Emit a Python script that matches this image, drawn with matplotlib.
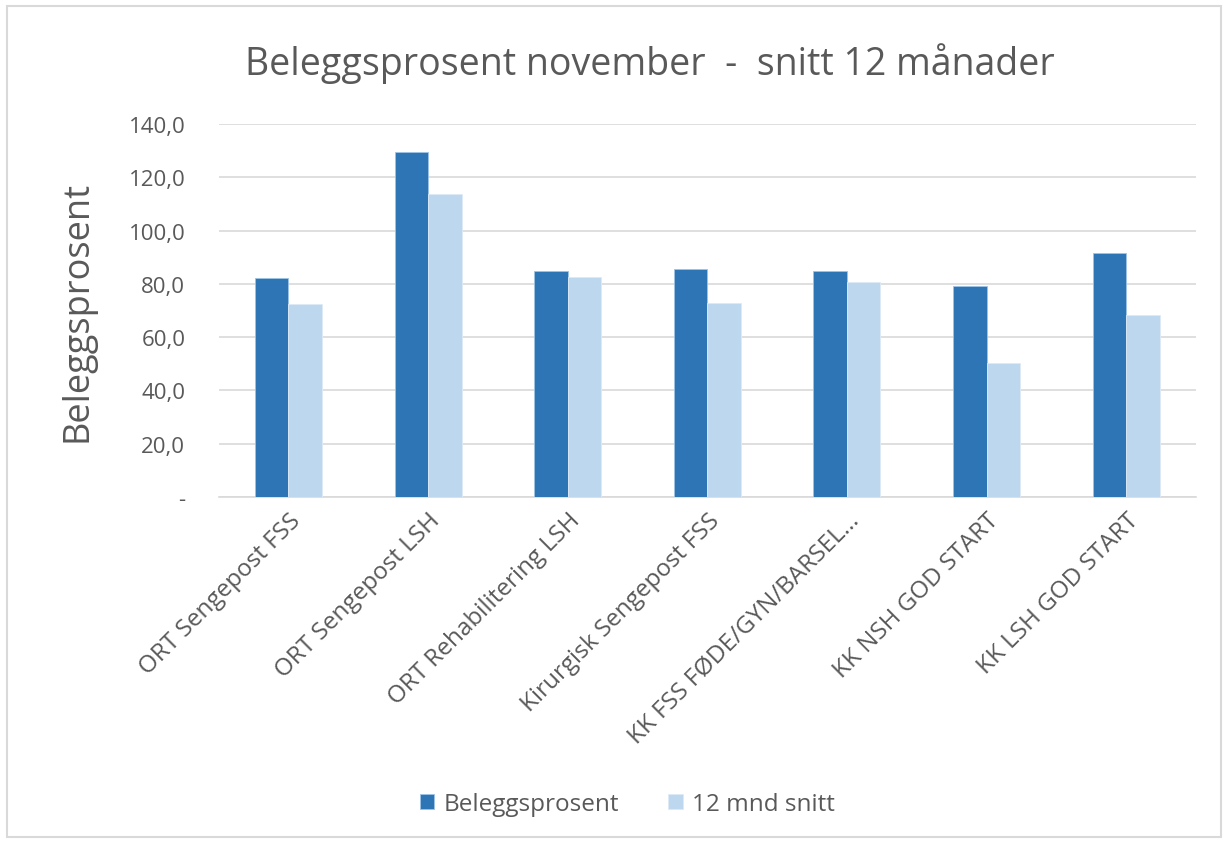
import matplotlib
matplotlib.use("Agg")
import matplotlib.pyplot as plt
import numpy as np
from matplotlib.patches import Rectangle

categories = ["ORT Sengepost FSS", "ORT Sengepost LSH", "ORT Rehabilitering LSH",
              "Kirurgisk Sengepost FSS", "KK FSS FØDE/GYN/BARSEL…",
              "KK NSH GOD START", "KK LSH GOD START"]
belegg = [82.1, 129.4, 84.8, 85.5, 84.7, 79.1, 91.6]
snitt12 = [72.3, 113.6, 82.6, 72.9, 80.8, 50.3, 68.3]
yticks = [0, 20, 40, 60, 80, 100, 120, 140]

plt.rcParams['font.family'] = ['Open Sans', 'DejaVu Sans']
txt = '#595959'

fig = plt.figure(figsize=(12.28, 8.45), dpi=100)
fig.patches.append(Rectangle((0.006, 0.008), 0.988, 0.984, transform=fig.transFigure,
                             fill=False, edgecolor='#d9d9d9', linewidth=1.5))
ax = fig.add_axes([0.178, 0.4107, 0.796, 0.4413])

x = np.arange(len(categories))
w = 0.24
ax.bar(x - w/2, belegg, w, color='#2e75b6', edgecolor='#9dc3e6', linewidth=0.6, label='Beleggsprosent', zorder=3)
ax.bar(x + w/2, snitt12, w, color='#bdd7ee', edgecolor='#deebf7', linewidth=0.6, label='12 mnd snitt', zorder=3)

ax.set_xlim(-0.5, len(categories) - 0.5)
ax.set_ylim(0, 140)
ax.set_yticks(yticks)
ax.set_yticklabels(['-' if v == 0 else f"{v:.1f}".replace('.', ',') for v in yticks],
                   fontsize=16, color=txt)
ax.yaxis.grid(True, color='#d9d9d9', linewidth=1.2, zorder=0)
ax.set_axisbelow(True)
for s in ['left', 'right', 'top']:
    ax.spines[s].set_visible(False)
ax.spines['bottom'].set_color('#d9d9d9')
ax.spines['bottom'].set_linewidth(1.2)
ax.tick_params(axis='y', length=0, pad=24)
ax.set_xticks(x)
ax.set_xticklabels(categories, rotation=45, ha='right', rotation_mode='anchor',
                   fontsize=17.5, color=txt)
ax.tick_params(axis='x', length=0, pad=8)

ax.set_ylabel('Beleggsprosent', fontsize=26, color=txt, labelpad=24)
fig.text(0.529, 0.925, 'Beleggsprosent november  -  snitt 12 månader',
         ha='center', va='center', fontsize=27, color=txt)

fig.legend(loc='center', bbox_to_anchor=(0.511, 0.047), ncol=2, frameon=False,
           fontsize=17.5, labelcolor=txt, handlelength=0.6, handleheight=0.6,
           columnspacing=2.0, handletextpad=0.4)

fig.savefig('out.png', dpi=100)
